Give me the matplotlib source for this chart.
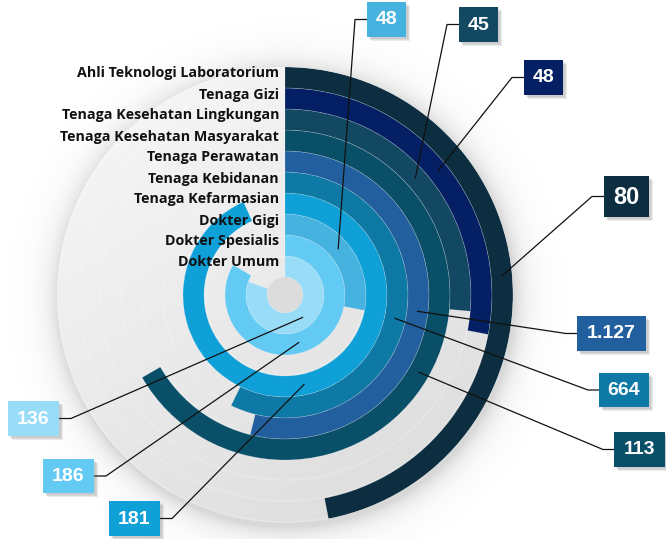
import numpy as np
import matplotlib
matplotlib.use("Agg")
import matplotlib.pyplot as plt
from matplotlib.patches import Circle, Rectangle

# categories from inner ring to outer ring
categories = ["Dokter Umum", "Dokter Spesialis", "Dokter Gigi", "Tenaga Kefarmasian",
              "Tenaga Kebidanan", "Tenaga Perawatan", "Tenaga Kesehatan Masyarakat",
              "Tenaga Kesehatan Lingkungan", "Tenaga Gizi", "Ahli Teknologi Laboratorium"]
values = [136, 186, 48, 181, 664, 1127, 113, 45, 48, 80]
value_labels = ["136", "186", "48", "181", "664", "1.127", "113", "45", "48", "80"]
# sweep of each ring, degrees clockwise from 12 o'clock
sweep_deg = [290, 300, 101, 336, 206, 194, 240, 95, 101, 169]
colors = ["#99DCF8", "#62CAF3", "#46B2E0", "#0FA0D8", "#0D79A4",
          "#225F9E", "#0A4F68", "#124862", "#041F63", "#0C2E40"]

W, H = 666, 539
cx, cy = 285, 295          # chart centre, pixels
R_HOLE, RING_W = 18, 21
R = R_HOLE + RING_W * len(values)

# callout layout per ring: box left, top, width, height, elbow x, anchor angle, font size
callouts = [
    (8, 401, 51, 35, 71, 142, 14),
    (43, 459, 51, 34, 106, 164, 14),
    (367, 2, 39, 35, 355, 49, 14),
    (109, 501, 51, 35, 172, 168, 14),
    (599, 373, 50, 34, 588, 102, 14),
    (577, 316, 69, 35, 566, 97, 14),
    (614, 432, 51, 35, 603, 120, 14),
    (459, 7, 39, 35, 447, 48, 14),
    (524, 60, 39, 35, 512, 51, 14),
    (604, 176, 45, 41, 592, 85, 17),
]

fig = plt.figure(figsize=(W / 100, H / 100), dpi=100)
fig.patch.set_facecolor("white")

# ---- background disc with soft shadow
ax_bg = fig.add_axes([0, 0, 1, 1])
ax_bg.set_xlim(0, W)
ax_bg.set_ylim(H, 0)
ax_bg.set_axis_off()

yy, xx = np.mgrid[0:H, 0:W] + 0.5
d = np.hypot(xx - (cx + 2), yy - (cy + 4))
sh_alpha = np.where(d > R, 0.30 * np.exp(-(d - R) / 12.0), 0.30)
shadow = np.zeros((H, W, 4))
shadow[..., :3] = 0.5
shadow[..., 3] = sh_alpha
ax_bg.imshow(shadow, extent=(0, W, H, 0), zorder=1, interpolation="bilinear")

s = ((cx - xx) * 0.55 + (cy - yy) * 0.85) / R
g = np.clip(0.915 + 0.045 * s, 0, 1)
disc = np.dstack([g, g, g])
im = ax_bg.imshow(disc, extent=(0, W, H, 0), zorder=2, interpolation="bilinear")
im.set_clip_path(Circle((cx, cy), R, transform=ax_bg.transData))

for k in range(1, len(values) + 1):
    ax_bg.add_patch(Circle((cx, cy), R_HOLE + RING_W * k - 1, fill=False,
                           ec="white", lw=1.0, alpha=0.22, zorder=3))
ax_bg.add_patch(Circle((cx, cy), R_HOLE, fc="#DCDCDC", ec="none", zorder=3))

# ---- radial bars
ax = fig.add_axes([(cx - R) / W, (H - cy - R) / H, 2 * R / W, 2 * R / H],
                  projection="polar")
ax.set_theta_zero_location("N")
ax.set_theta_direction(-1)
ax.set_ylim(0, R)
ax.set_axis_off()
ax.patch.set_alpha(0)
bottoms = R_HOLE + RING_W * np.arange(len(values))
ax.bar(np.zeros(len(values)), RING_W, width=np.deg2rad(sweep_deg), bottom=bottoms,
       align="edge", color=colors, edgecolor=(1, 1, 1, 0.3), linewidth=0.4)

# ---- labels and callouts
ax_top = fig.add_axes([0, 0, 1, 1])
ax_top.set_xlim(0, W)
ax_top.set_ylim(H, 0)
ax_top.set_axis_off()
ax_top.patch.set_alpha(0)

for i, name in enumerate(categories):
    ax_top.text(279, cy - (bottoms[i] + RING_W / 2) - 4, name, ha="right", va="center",
                fontsize=10.3, fontweight="bold", family="Open Sans", color="#111111")

to_top = ax_top.transData.inverted()
for i, (bl, bt, bw, bh, ex, ang, fs) in enumerate(callouts):
    px, py = to_top.transform(ax.transData.transform((np.deg2rad(ang), bottoms[i] + RING_W / 2)))
    my = bt + bh / 2
    edge = bl if ex < bl else bl + bw
    ax_top.plot([px, ex, edge], [py, my, my], color="#111111", lw=0.9, zorder=5)
    for k, a in enumerate([0.10, 0.10, 0.12]):
        o = 1.5 + k
        ax_top.add_patch(Rectangle((bl + o, bt + o), bw, bh, fc="#555555", ec="none",
                                   alpha=a, zorder=6))
    ax_top.add_patch(Rectangle((bl, bt), bw, bh, fc=colors[i], ec="none", zorder=7))
    ax_top.text(bl + bw / 2, my + 0.5, value_labels[i], ha="center", va="center",
                fontsize=fs, fontweight="bold", family="Liberation Sans", color="white",
                zorder=8)

fig.savefig("out.png", dpi=100)
